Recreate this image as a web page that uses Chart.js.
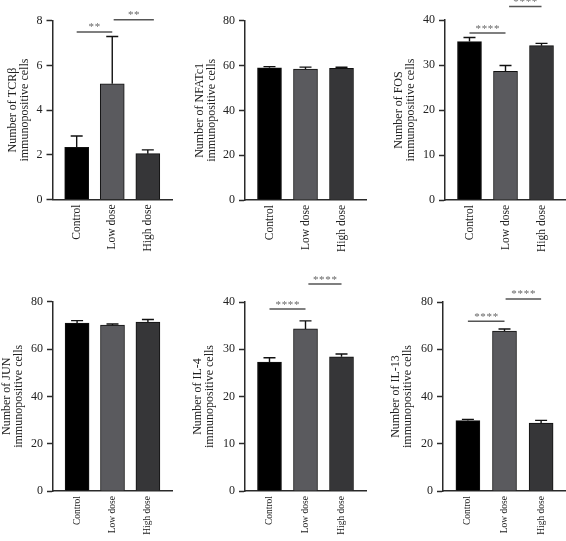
<!DOCTYPE html>
<html><head><meta charset="utf-8">
<script src="https://cdn.jsdelivr.net/npm/chart.js@4.4.1/dist/chart.umd.min.js"></script>
<style>
html,body{margin:0;padding:0;background:#fff;}
body{width:566px;height:541px;overflow:hidden;position:relative;}
canvas{position:absolute;}
</style></head>
<body>
<canvas id="c1" width="186" height="270" style="left:0px;top:0px"></canvas>
<canvas id="c2" width="188" height="270" style="left:186px;top:0px"></canvas>
<canvas id="c3" width="190" height="270" style="left:376px;top:0px"></canvas>
<canvas id="c4" width="186" height="271" style="left:0px;top:270px"></canvas>
<canvas id="c5" width="188" height="271" style="left:186px;top:270px"></canvas>
<canvas id="c6" width="190" height="271" style="left:376px;top:270px"></canvas>
<script>
// ---- data ----
const categories = ['Control', 'Low dose', 'High dose'];

const tcrMean  = [2.33, 5.18, 2.05];
const tcrErr   = [0.51, 2.11, 0.17];
const tcrTicks = [0, 2, 4, 6, 8];
const tcrSig   = [[0, 1, 7.5, '**'], [1.04, 2.17, 8.04, '**']];

const nfatMean  = [59.0, 58.4, 58.7];
const nfatErr   = [0.5, 0.9, 0.5];
const nfatTicks = [0, 20, 40, 60, 80];
const nfatSig   = [];

const fosMean  = [35.2, 28.6, 34.3];
const fosErr   = [0.9, 1.3, 0.5];
const fosTicks = [0, 10, 20, 30, 40];
const fosSig   = [[0, 1, 37.1, '****'], [1.1, 2.0, 43.0, '****']];

const junMean  = [71.0, 70.1, 71.4];
const junErr   = [1.0, 0.5, 1.1];
const junTicks = [0, 20, 40, 60, 80];
const junSig   = [];

const il4Mean  = [27.3, 34.3, 28.4];
const il4Err   = [0.9, 1.7, 0.6];
const il4Ticks = [0, 10, 20, 30, 40];
const il4Sig   = [[0, 1, 38.5, '****'], [1.08, 2.0, 43.8, '****']];

const il13Mean  = [29.8, 67.7, 28.8];
const il13Err   = [0.5, 0.9, 1.1];
const il13Ticks = [0, 20, 40, 60, 80];
const il13Sig   = [[0, 1, 71.9, '****'], [1.03, 2.0, 81.3, '****']];

// ---- style ----
const FONT = "'Liberation Serif', 'DejaVu Serif', serif";
const barColors = ['#000000', '#5a5a5e', '#363638'];
const axisColor = '#2a2a2a';
const textColor = '#222222';

const errorBars = {
  id: 'errorBars',
  afterDatasetsDraw(chart, args, opts) {
    const { ctx, scales: { x, y } } = chart;
    const ds = chart.data.datasets[0];
    ctx.save();
    ctx.strokeStyle = '#111';
    ctx.lineWidth = 1.4;
    ds.data.forEach((d, i) => {
      const px = x.getPixelForValue(d.x);
      const p0 = y.getPixelForValue(d.y);
      const p1 = y.getPixelForValue(d.y + opts.errs[i]);
      ctx.beginPath();
      ctx.moveTo(px, p0); ctx.lineTo(px, p1);
      ctx.moveTo(px - 6, p1); ctx.lineTo(px + 6, p1);
      ctx.stroke();
    });
    ctx.restore();
  }
};

const sigBars = {
  id: 'sigBars',
  afterDraw(chart, args, opts) {
    const { ctx, scales: { x, y } } = chart;
    ctx.save();
    opts.items.forEach(([a, b, v, label]) => {
      const x1 = x.getPixelForValue(a), x2 = x.getPixelForValue(b);
      const py = y.getPixelForValue(v);
      ctx.strokeStyle = '#555';
      ctx.lineWidth = 1.5;
      ctx.beginPath(); ctx.moveTo(x1, py); ctx.lineTo(x2, py); ctx.stroke();
      ctx.fillStyle = '#666';
      ctx.font = '11px ' + FONT;
      ctx.textAlign = 'center';
      ctx.textBaseline = 'alphabetic';
      const n = label.length, step = 6.2, cx = (x1 + x2) / 2;
      for (let i = 0; i < n; i++) {
        ctx.fillText(label[i], cx + (i - (n - 1) / 2) * step, py - 1.5);
      }
    });
    ctx.restore();
  }
};

function makePanel(id, geom, name, means, errs, ticks, sig) {
  return new Chart(document.getElementById(id), {
    type: 'bar',
    data: {
      datasets: [{
        data: means.map((v, i) => ({ x: i, y: v })),
        backgroundColor: barColors,
        borderColor: '#111',
        borderWidth: 1,
        barThickness: 24
      }]
    },
    options: {
      responsive: false, animation: false, events: [],
      layout: { padding: { top: geom.padTop, right: geom.padRight, left: 0, bottom: 0 } },
      plugins: {
        legend: { display: false }, tooltip: { enabled: false },
        errorBars: { errs: errs }, sigBars: { items: sig }
      },
      scales: {
        x: {
          type: 'linear', min: -0.68, max: 2.68, offset: false,
          afterBuildTicks: s => { s.ticks = categories.map((c, i) => ({ value: i })); },
          afterFit: s => { s.height = geom.xh; },
          ticks: {
            callback: v => categories[v], minRotation: 90, maxRotation: 90, autoSkip: false,
            padding: 5, color: textColor, font: { family: FONT, size: geom.xFont }
          },
          grid: { display: false, drawTicks: false },
          border: { display: true, color: axisColor, width: 1.5 }
        },
        y: {
          min: ticks[0], max: ticks[ticks.length - 1],
          afterBuildTicks: s => { s.ticks = ticks.map(v => ({ value: v })); },
          afterFit: s => { s.width = geom.yw; },
          ticks: { padding: 4, color: textColor, font: { family: FONT, size: 12 } },
          grid: { display: true, drawOnChartArea: false, drawTicks: true, tickLength: 6,
                  tickColor: axisColor, tickWidth: 1.5, color: axisColor },
          border: { display: true, color: axisColor, width: 1.5 },
          title: {
            display: true, text: ['Number of ' + name, 'immunopositive cells'],
            color: textColor, font: { family: FONT, size: 12, lineHeight: 1 },
            padding: { top: geom.titlePad, bottom: 0 }
          }
        }
      }
    },
    plugins: [errorBars, sigBars]
  });
}

makePanel('c1', { padTop: 20.7, padRight: 14, xh: 70.5, yw: 52.5, titlePad: 7, xFont: 11.5 }, 'TCRβ', tcrMean, tcrErr, tcrTicks, tcrSig);
makePanel('c2', { padTop: 20.7, padRight: 8, xh: 70, yw: 59, titlePad: 8, xFont: 11.5 }, 'NFATc1', nfatMean, nfatErr, nfatTicks, nfatSig);
makePanel('c3', { padTop: 20, padRight: 0, xh: 70, yw: 69, titlePad: 17, xFont: 11.5 }, 'FOS', fosMean, fosErr, fosTicks, fosSig);
makePanel('c4', { padTop: 31.7, padRight: 14, xh: 50, yw: 53, titlePad: 1, xFont: 9.5 }, 'JUN', junMean, junErr, junTicks, junSig);
makePanel('c5', { padTop: 32, padRight: 8, xh: 50, yw: 59, titlePad: 6, xFont: 9.5 }, 'IL-4', il4Mean, il4Err, il4Ticks, il4Sig);
makePanel('c6', { padTop: 32, padRight: 0, xh: 50, yw: 67, titlePad: 14, xFont: 9.5 }, 'IL-13', il13Mean, il13Err, il13Ticks, il13Sig);
</script>
</body></html>
